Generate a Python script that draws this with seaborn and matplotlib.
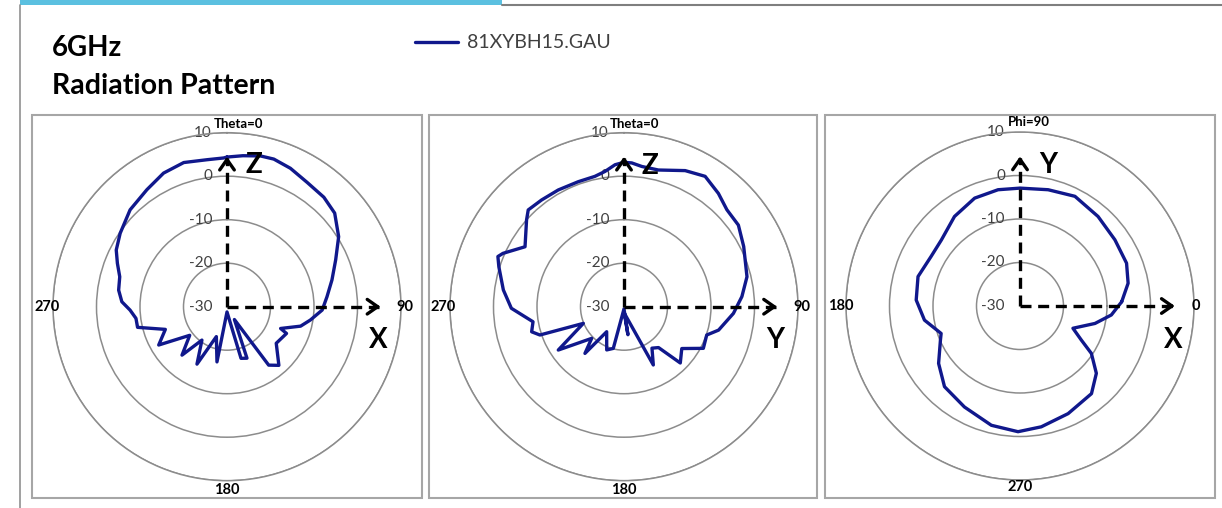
import numpy as np
import matplotlib
matplotlib.use("Agg")
import matplotlib.pyplot as plt
from matplotlib.patches import Rectangle
from matplotlib.lines import Line2D
from matplotlib.transforms import offset_copy
import seaborn as sns

# gain (dB) read off the three pattern cuts
# panel 1: XZ cut, theta clockwise from top
xz_theta = [0, 6, 12.5, 17.6, 24.6, 32.8, 41.5, 49, 57.9, 66.7, 75.7, 84.3, 92, 99.1,
            104.8, 112.1, 114.2, 126.6, 138.5, 144.5, 150, 158.8, 164.8, 180, 190.3,
            199.6, 207.6, 216.9, 222.9, 232.5, 240.7, 249.8, 257, 262.7, 268, 272.7,
            278.7, 285.6, 291.6, 297.1, 304.5, 315, 325.6, 334.6, 343.3, 352.2, 358.7]
xz_gain = [4.4, 4.9, 5.5, 5.6, 5.0, 4.0, 3.6, 2.8, 0.3, -2.8, -5.1, -6.9, -8.1, -10.6,
           -12.5, -16.7, -15.0, -15.9, -12.0, -13.5, -26.6, -17.3, -17.7, -28.8, -17.1,
           -22.7, -15.1, -20.4, -14.8, -19.2, -12.0, -14.9, -8.9, -8.9, -7.7, -5.8,
           -4.8, -4.4, -2.9, -1.4, -0.2, 1.5, 2.6, 4.0, 4.6, 4.1, 4.2]

# panel 2: YZ cut, theta clockwise from top
yz_theta = [0, 3.1, 7.2, 14.1, 24.2, 31.9, 39.8, 46.7, 54.5, 63.3, 76.3, 85.1, 93.5,
            103.9, 108.9, 117.7, 125.9, 135, 139.8, 146, 153.3, 177, 172, 180, 194.4,
            201.8, 214.7, 219.9, 225.6, 236.6, 247.7, 251.4, 254.8, 260.6, 269.2, 277.9,
            287.7, 291.7, 293.8, 301.2, 311.7, 315.3, 322.3, 330.6, 339.9, 347.4, 352, 356.4]
yz_gain = [3.2, 3.1, 2.5, 2.4, 4.3, 5.3, 3.9, 2.5, 2.3, 0.8, -0.9, -2.8, -4.8,
           -7.6, -9.9, -9.4, -13.6, -11.7, -17.7, -18.5, -15.0, -28.5, -23.5, -29.5, -20.1,
           -19.3, -23.0, -16.0, -19.6, -11.9, -19.9, -9.6, -8.0, -8.8, -4.1, -2.0,
           0.2, 1.2, 0.4, -3.4, 0.0, 1.3, 1.0, 0.8, 0.6, 0.7, 1.4, 2.7]

# panel 3: XY cut, phi counter-clockwise from the right
xy_phi = [2.4, 11.9, 21.9, 34.9, 48.9, 63.4, 76.4, 90, 100.7, 112.8, 126.2, 140, 150.9,
          163.9, 176.7, 188.4, 199.2, 203.2, 215.2, 226.9, 241.2, 256.5, 269.1, 280,
          294.1, 309.2, 318.6, 326.4, 331, 337.2, 346.9, 354.4]
xy_gain = [-6.6, -4.6, -3.6, -3.4, -2.7, -1.8, -2.5, -2.9, -2.8, -3.1, -4.5, -6.4, -6.6,
           -5.6, -6.1, -7.8, -10.8, -10.1, -7.1, -4.6, -3.5, -1.8, -1.1, -1.8,
           -2.9, -4.0, -6.6, -10.3, -13.9, -16.8, -12.3, -8.9]

ring_values = [-30, -20, -10, 0, 10]
series_name = "81XYBH15.GAU"

sns.set_style("white")
plt.rcParams["font.family"] = ["Lato", "DejaVu Sans"]

W, H = 1222, 508
fig = plt.figure(figsize=(W / 100, H / 100), dpi=100)
fig.patch.set_facecolor("white")

NAVY = "#10188c"
RING = "#8c8c8c"
TXT = "#404040"
R_PX = 174


def fx(px):
    return px / W


def fy(py):
    return 1 - py / H


# slide decoration
fig.patches.append(Rectangle((fx(20), fy(5)), fx(482), 5 / H, transform=fig.transFigure,
                             fc="#5bc0e0", ec="none"))
fig.lines.append(Line2D([fx(502), 1], [fy(4.5), fy(4.5)], transform=fig.transFigure,
                        color="#7f7f7f", lw=1.5))
fig.lines.append(Line2D([fx(20), fx(20)], [0, fy(5)], transform=fig.transFigure,
                        color="#909090", lw=1.2))

fig.text(fx(52), fy(48), "6GHz", fontsize=20, fontweight="bold", va="center", color="black")
fig.text(fx(52), fy(86), "Radiation Pattern", fontsize=20.5, fontweight="bold",
         va="center", color="black")

# (label, angle, radius, horizontal shift in px)
panels = [
    dict(box=(32, 422), c=(227, 306.7), ang=xz_theta, gain=xz_gain, cw=True,
         labels=[("Theta=0", 0, 12.1, 11), ("90", 90, 11.0, 0), ("180", 180, 12.1, 0),
                 ("270", 270, 11.4, 0)],
         up=0, right=90, tips=(4.5, 5.3), letters=[("Z", 10.7, 3.2), ("X", 102.4, 5.7)]),
    dict(box=(429, 817), c=(624, 306.7), ang=yz_theta, gain=yz_gain, cw=True,
         labels=[("Theta=0", 0, 12.1, 10), ("90", 90, 11.0, 0), ("180", 180, 12.1, 0),
                 ("270", 270, 11.5, 0)],
         up=0, right=90, tips=(4.5, 5.2), letters=[("Z", 10.5, 2.8), ("Y", 102.4, 5.6)]),
    dict(box=(825, 1215), c=(1020, 306), ang=xy_phi, gain=xy_gain, cw=False,
         labels=[("Phi=90", 90, 12.4, 9), ("0", 0, 10.4, 0), ("270", 270, 11.5, 0),
                 ("180", 180, 11.2, 0)],
         up=90, right=0, tips=(4.4, 5.6), letters=[("Y", 78.8, 3.1), ("X", 347.5, 6.1)]),
]

curve = None
for p in panels:
    x0, x1 = p["box"]
    fig.patches.append(Rectangle((fx(x0), fy(498)), fx(x1 - x0), (498 - 115) / H,
                                 transform=fig.transFigure, fc="none", ec="#a6a6a6", lw=1.5))
    cx, cy = p["c"]
    ax = fig.add_axes([fx(cx - R_PX), fy(cy + R_PX), fx(2 * R_PX), 2 * R_PX / H],
                      projection="polar")
    ax.set_facecolor("none")
    if p["cw"]:
        ax.set_theta_zero_location("N")
        ax.set_theta_direction(-1)
    ax.set_ylim(-30, 10)
    ax.set_xticks([])
    ax.set_yticks([-20, -10, 0, 10])
    ax.set_yticklabels([])
    ax.grid(True, color=RING, lw=1.1)
    ax.spines["polar"].set_color(RING)
    ax.spines["polar"].set_linewidth(1.1)

    ang = list(p["ang"]) + [p["ang"][0] + 360]
    gain = list(p["gain"]) + [p["gain"][0]]
    sns.lineplot(x=np.deg2rad(ang), y=gain, ax=ax, sort=False, estimator=None,
                 color=NAVY, lw=2.4)
    if curve is None:
        curve = ax.get_lines()[0]

    # ring labels
    lab_tr = offset_copy(ax.transData, fig=fig, x=-15, y=0, units="dots")
    for v in ring_values:
        ax.text(np.deg2rad(p["up"]), v, str(v), transform=lab_tr, ha="right", va="center",
                fontsize=11, color=TXT, zorder=1)
    # angle labels
    for s, a, r, dx in p["labels"]:
        tr = offset_copy(ax.transData, fig=fig, x=dx, y=0, units="dots")
        ax.text(np.deg2rad(a), r, s, transform=tr, ha="center", va="center",
                fontsize=9.5 if "=" in s else 10.5, fontweight="bold", color="black")

    # dashed axis arrows
    for a, tip in ((p["up"], p["tips"][0]), (p["right"], p["tips"][1])):
        t = np.deg2rad(a)
        ax.plot([t, t], [-30, tip - 0.3], color="black", lw=2.4, ls=(0, (3.3, 2.0)),
                solid_capstyle="butt")
        ax.annotate("", xy=(t, tip), xytext=(t, tip - 1.5),
                    arrowprops=dict(arrowstyle="->,head_length=0.5,head_width=0.35",
                                    lw=2.4, color="black", mutation_scale=15,
                                    shrinkA=0, shrinkB=0))
    for s, a, r in p["letters"]:
        ax.text(np.deg2rad(a), r, s, ha="center", va="center", fontsize=20,
                fontweight="bold", color="black")
    ax.set_xlabel("")
    ax.set_ylabel("")

fig.legend(handles=[curve], labels=[series_name], loc="center left",
           bbox_to_anchor=(fx(405), fy(43)), frameon=False, borderpad=0,
           handlelength=2.2, handletextpad=0.5, fontsize=14, labelcolor=TXT)

fig.savefig("out.png", dpi=100, facecolor="white")
